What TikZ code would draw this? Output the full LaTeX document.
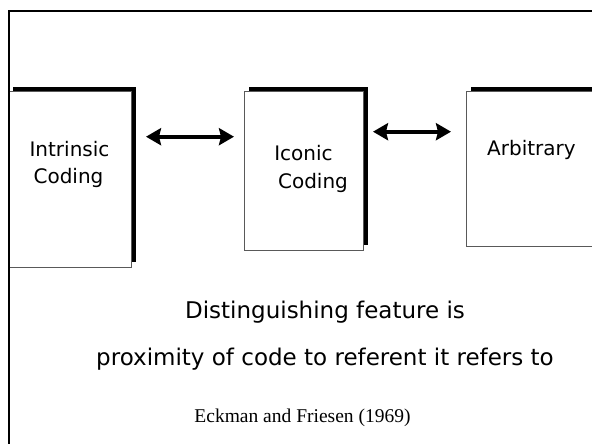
\documentclass[tikz,border=0pt]{standalone}
\usepackage{fontspec}
\setmainfont{DejaVu Sans}
\newfontfamily\citefont{Liberation Serif}
\usepackage{tikz}
\usetikzlibrary{arrows.meta,shadows}

\begin{document}
\begin{tikzpicture}[x=1pt,y=-1pt,>={Stealth[length=15pt,width=17pt,inset=2pt]},
		codebox/.style={draw=black!65,line width=1pt,fill=white,inner sep=0pt,
			drop shadow={shadow xshift=5pt,shadow yshift=5pt,fill=black,opacity=1}},
		boxtext/.style={inner sep=0pt,anchor=base,font=\fontsize{20}{27.5}\selectfont},
		bigtext/.style={inner sep=0pt,anchor=base,font=\fontsize{23}{27}\selectfont}]
			\useasboundingbox (0,0) rectangle (592,444);

			\node[codebox,minimum width=123pt,minimum height=175pt] (intrinsic) at (69.5,179.5) {};
			\node[codebox,minimum width=119pt,minimum height=158pt] (iconic) at (303.5,171) {};
			\node[codebox,minimum width=131pt,minimum height=154pt] (arbitrary) at (531.5,169) {};

			\node[boxtext] (intrinsic1) at (69.5,156) {Intrinsic};
			\node[boxtext] (intrinsic2) at (68.5,183) {Coding};
			\node[boxtext] (iconic1) at (303.5,160) {Iconic};
			\node[boxtext] (iconic2) at (313,188) {Coding};
			\node[boxtext] (arbitrary1) at (531.5,155) {Arbitrary};

			\coordinate (ia) at (146,136.7);
			\coordinate (ib) at (234,136.7);
			\coordinate (ic) at (373,131.7);
			\coordinate (id) at (451,131.7);

			\draw[<->,line width=4pt] (ia) -- (ib);
			\draw[<->,line width=4pt] (ic) -- (id);

			\node[bigtext] (feature) at (325,318) {Distinguishing feature is};
			\node[bigtext] (proximity) at (325,365) {proximity of code to referent it refers to};

			\node[inner sep=0pt,anchor=base,font=\citefont\fontsize{19.5}{22}\selectfont] (cite) at (302.5,422) {Eckman and Friesen (1969)};

			\draw[line width=2.5pt] (592,11) -- (9,11) -- (9,444);
		\end{tikzpicture}
\end{document}
